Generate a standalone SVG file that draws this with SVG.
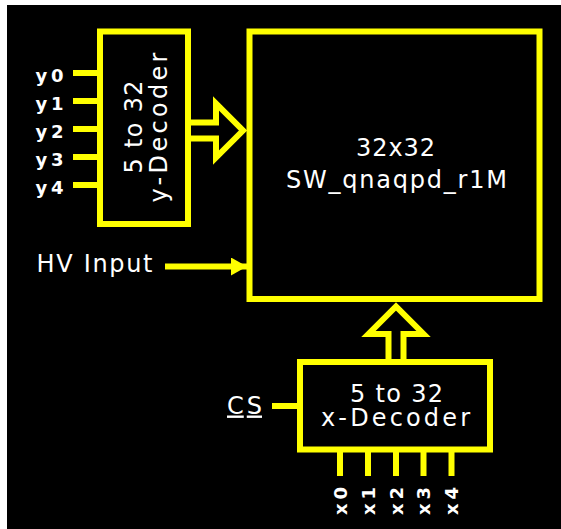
<svg xmlns="http://www.w3.org/2000/svg" width="561" height="529" viewBox="0 0 561 529">
  <style>
    .box { fill: #000000; stroke: #FFFF00; stroke-width: 6; }
    .wire { fill: none; stroke: #FFFF00; stroke-width: 6; stroke-linejoin: miter; stroke-miterlimit: 10; }
    .bus { fill: #000000; stroke: #FFFF00; stroke-width: 6; stroke-linejoin: miter; stroke-miterlimit: 10; }
    .t { font-family: "DejaVu Sans", "Liberation Sans", sans-serif; font-size: 24px; fill: #FFFFFF; }
    .lbl { font-family: "DejaVu Sans", "Liberation Sans", sans-serif; font-size: 18px; font-weight: bold; fill: #FFFFFF; }
  </style>
  <defs>
    <marker id="arrow" markerUnits="userSpaceOnUse" markerWidth="18" markerHeight="20" refX="16" refY="9" orient="auto">
      <polygon points="0,0 16,9 0,18" fill="#FFFF00"/>
    </marker>
  </defs>
  <rect x="0" y="0" width="561" height="529" fill="#FFFFFF"/>
  <rect x="7" y="5" width="554" height="524" fill="#000000"/>

  <g id="connectors">
    <!-- y inputs -->
    <line class="wire" x1="73" y1="73" x2="100" y2="73"/>
    <line class="wire" x1="73" y1="101" x2="100" y2="101"/>
    <line class="wire" x1="73" y1="129" x2="100" y2="129"/>
    <line class="wire" x1="73" y1="157" x2="100" y2="157"/>
    <line class="wire" x1="73" y1="185" x2="100" y2="185"/>
    <!-- x inputs -->
    <line class="wire" x1="340" y1="449" x2="340" y2="476"/>
    <line class="wire" x1="368" y1="449" x2="368" y2="476"/>
    <line class="wire" x1="396" y1="449" x2="396" y2="476"/>
    <line class="wire" x1="423.5" y1="449" x2="423.5" y2="476"/>
    <line class="wire" x1="451.5" y1="449" x2="451.5" y2="476"/>
    <!-- CS -->
    <line class="wire" x1="272" y1="406" x2="300" y2="406"/>
    <!-- HV input -->
    <line class="wire" x1="165" y1="266.5" x2="247" y2="266.5" marker-end="url(#arrow)"/>
    <!-- y bus arrow -->
    <path class="bus" d="M188,122.5 H216 V103.5 L243,130.5 L216,157.5 V138.5 H188"/>
    <!-- x bus arrow -->
    <path class="bus" d="M388.5,362 V334 H368.5 L396,306.5 L423.5,334 H403.5 V362"/>
  </g>

  <g id="y-decoder">
    <rect class="box" x="100" y="31.5" width="88" height="192.5"/>
    <text class="t" text-anchor="middle" transform="translate(141.5,127) rotate(-90)" textLength="93" lengthAdjust="spacing">5 to 32</text>
    <text class="t" text-anchor="middle" transform="translate(166.5,127.5) rotate(-90)" textLength="150" lengthAdjust="spacing">y-Decoder</text>
  </g>

  <g id="main-array">
    <rect class="box" x="249.5" y="31.5" width="290" height="267.5"/>
    <text class="t" x="395.5" y="156" text-anchor="middle" textLength="79" lengthAdjust="spacing">32x32</text>
    <text class="t" x="396.5" y="187.5" text-anchor="middle" textLength="221" lengthAdjust="spacing">SW_qnaqpd_r1M</text>
  </g>

  <g id="x-decoder">
    <rect class="box" x="300" y="362" width="190" height="87.5"/>
    <text class="t" x="396.5" y="401.5" text-anchor="middle" textLength="93" lengthAdjust="spacing">5 to 32</text>
    <text class="t" x="395.5" y="426" text-anchor="middle" textLength="149" lengthAdjust="spacing">x-Decoder</text>
  </g>

  <g id="y-labels">
    <text class="lbl" x="63.5" y="81.5" text-anchor="end" textLength="28" lengthAdjust="spacing">y0</text>
    <text class="lbl" x="63.5" y="109.5" text-anchor="end" textLength="28" lengthAdjust="spacing">y1</text>
    <text class="lbl" x="63.5" y="137.5" text-anchor="end" textLength="28" lengthAdjust="spacing">y2</text>
    <text class="lbl" x="63.5" y="165.5" text-anchor="end" textLength="28" lengthAdjust="spacing">y3</text>
    <text class="lbl" x="63.5" y="193.5" text-anchor="end" textLength="28" lengthAdjust="spacing">y4</text>
  </g>

  <g id="x-labels">
    <text class="lbl" text-anchor="middle" transform="translate(346.5,501) rotate(-90)" textLength="28" lengthAdjust="spacing">x0</text>
    <text class="lbl" text-anchor="middle" transform="translate(374.5,501) rotate(-90)" textLength="28" lengthAdjust="spacing">x1</text>
    <text class="lbl" text-anchor="middle" transform="translate(402.5,501) rotate(-90)" textLength="28" lengthAdjust="spacing">x2</text>
    <text class="lbl" text-anchor="middle" transform="translate(430,501) rotate(-90)" textLength="28" lengthAdjust="spacing">x3</text>
    <text class="lbl" text-anchor="middle" transform="translate(458,501) rotate(-90)" textLength="28" lengthAdjust="spacing">x4</text>
  </g>

  <g id="hv-input">
    <text class="t" x="36.5" y="271.5" textLength="116" lengthAdjust="spacing">HV Input</text>
  </g>

  <g id="cs">
    <text class="t" x="227" y="413.5" textLength="35" lengthAdjust="spacing" text-decoration="underline">CS</text>
  </g>
</svg>
